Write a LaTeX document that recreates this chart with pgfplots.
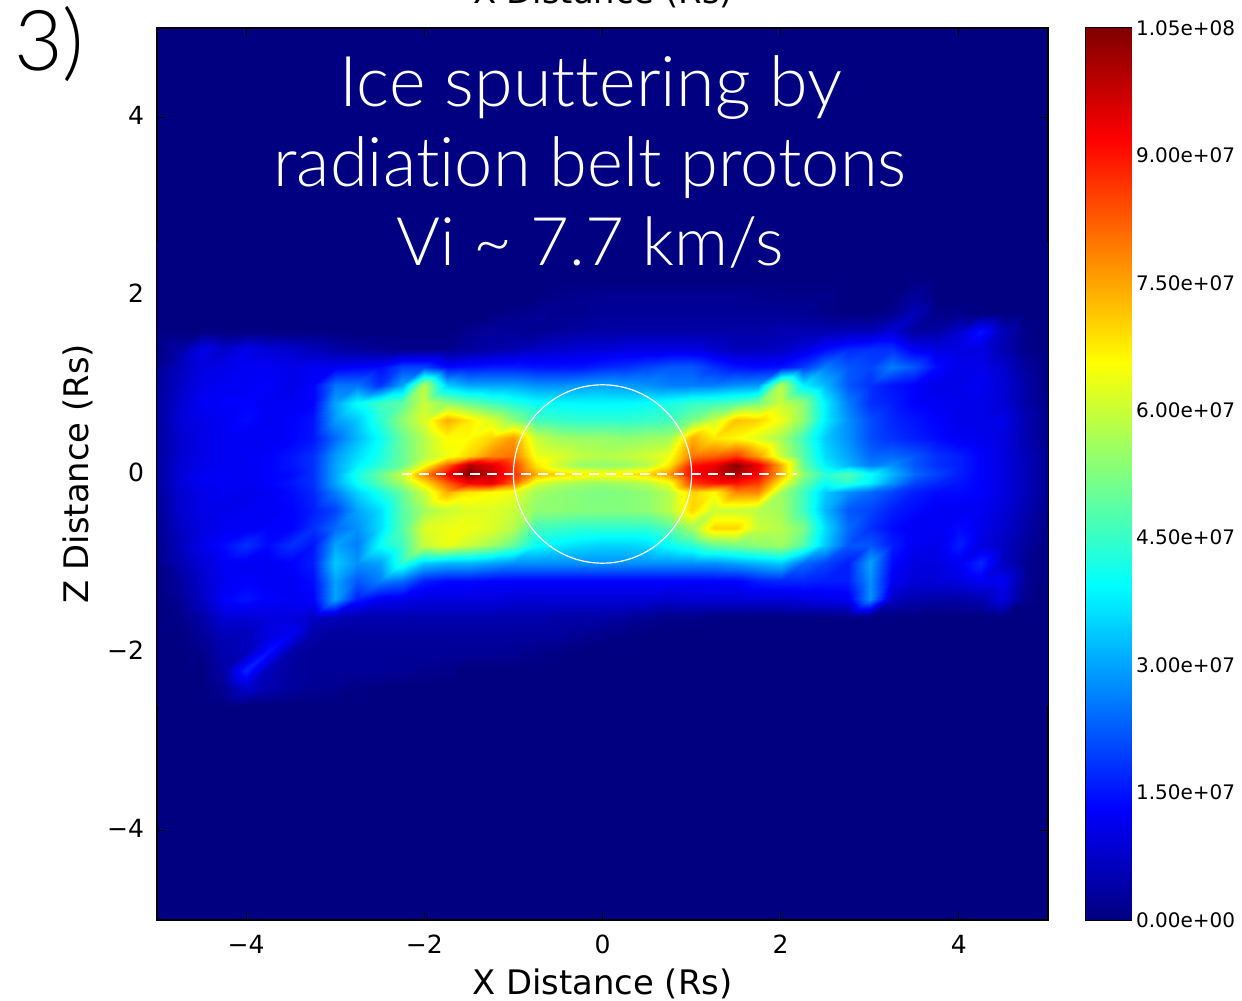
\documentclass[border=0pt]{standalone}
\usepackage{fontspec}
\setmainfont{DejaVu Sans}
\newfontfamily\thinfont[Ligatures=NoCommon]{Lato Light}
\usepackage{pgfplots}
\pgfplotsset{compat=1.18}
\begin{document}
\begin{tikzpicture}[x=0.5pt,y=0.5pt]
\useasboundingbox (0,0) rectangle (1242,1001);
\begin{axis}[
  at={(78.5pt,40.5pt)}, anchor=south west,
  scale only axis, width=445.5pt, height=446pt,
  xmin=-5, xmax=5, ymin=-5, ymax=5,
  axis background/.style={fill={rgb,1:red,0;green,0;blue,0.5}},
  axis line style={line width=0.6pt,black},
  tick style={black,line width=0.5pt},
  major tick length=4pt,
  tick align=inside,
  xtick={-4,-2,0,2,4}, ytick={-4,-2,0,2,4},
  xticklabels={−4,−2,0,2,4}, yticklabels={−4,−2,0,2,4},
  tick label style={font=\fontsize{12.5}{14}\selectfont},
  xticklabel style={yshift=-4pt},
  yticklabel style={xshift=-3pt,yshift=1pt},
  xlabel={X Distance (Rs)}, ylabel={Z Distance (Rs)},
  label style={font=\fontsize{16.9}{18}\selectfont},
  xlabel style={yshift=-0.5pt},
  ylabel style={yshift=0pt},
  colormap/jet,
  point meta min=0, point meta max=10.5,
]
\addplot[surf, shader=interp, mesh/cols=41, point meta=explicit] table[
  row sep=\\, header=false,
  x expr={-5+0.25*mod(\coordindex,41)},
  y expr={ifthenelse(floor(\coordindex/41)<=12, 2.6-0.2*floor(\coordindex/41), ifthenelse(floor(\coordindex/41)<=16, 1.4-0.1*floor(\coordindex/41), 3-0.2*floor(\coordindex/41)))},
  meta index=0] {
0\\0\\0\\0\\0\\0\\0\\0\\0\\0\\0\\0\\0\\0\\0\\0\\0\\0\\0\\0\\0\\0\\0\\0\\0\\0\\0\\0\\0\\0\\0\\0\\0\\0\\0\\0\\0\\0\\0\\0\\0\\
0\\0\\0\\0\\0\\0\\0\\0\\0\\0\\0\\0\\0\\0\\0\\0\\0\\0\\0\\0\\0\\0\\0\\0\\0\\0\\0\\0\\0\\0\\0\\0\\0\\0\\0\\0\\0\\0\\0\\0\\0\\
0\\0\\0\\0\\0\\0\\0\\0\\0\\0\\0\\0\\0\\0\\0\\0\\0\\0\\0\\0\\0\\0\\0\\0\\0\\0\\0\\0\\0\\0\\0\\0\\0\\0\\0\\0\\0\\0\\0\\0\\0\\
0\\0\\0\\0\\0\\0\\0\\0\\0\\0\\0\\0\\0\\0\\0\\0\\0\\0\\.1\\.15\\.2\\.2\\.2\\.2\\.2\\.2\\.2\\.15\\.1\\.1\\.1\\0\\0\\0\\.3\\0\\0\\0\\0\\0\\0\\
0\\0\\0\\0\\0\\0\\0\\0\\0\\0\\0\\0\\0\\0\\0\\0\\.1\\.2\\.15\\.15\\.25\\.25\\.25\\.25\\.25\\.25\\.25\\.25\\.25\\.2\\.1\\0\\0\\.15\\.6\\.1\\.1\\0\\0\\0\\0\\
0\\0\\0\\0\\0\\0\\0\\0\\0\\0\\0\\0\\0\\0\\.15\\.3\\.25\\.2\\.3\\.35\\.4\\.4\\.4\\.4\\.4\\.4\\.4\\.4\\.5\\.5\\.5\\.6\\.6\\.9\\.3\\.4\\.8\\1.5\\.6\\.1\\0\\
0\\.4\\1.1\\.8\\1.1\\.9\\.8\\.6\\.4\\.3\\.2\\.15\\.15\\.15\\.3\\.4\\.5\\.7\\.8\\.9\\.9\\1\\1\\1\\1\\.8\\.6\\.6\\.7\\1\\1.4\\1.7\\1.8\\1.8\\1.2\\1\\1\\1\\.5\\.1\\0\\
.1\\.6\\1\\1.1\\1.2\\1.2\\1.1\\1.2\\1.2\\1.3\\1.4\\2\\2\\1.4\\1.5\\1.6\\1.6\\1.5\\1.5\\1.5\\1.7\\1.8\\2\\2.2\\2.2\\1.8\\1.5\\1.4\\1.5\\1.9\\2.6\\2.2\\2\\2.6\\2.2\\1.4\\1.1\\1.1\\.8\\.3\\0\\
.2\\.7\\1.1\\1.2\\1.2\\1.3\\1.1\\1.3\\2.5\\2.5\\1.8\\3\\5.8\\3.4\\3\\3\\3\\2.8\\2.8\\2.9\\3\\2.9\\2.8\\2.6\\2.6\\2.6\\2.8\\2.9\\5.8\\3.8\\3.2\\2.2\\1.8\\1.5\\1.3\\1.1\\1.1\\1.2\\.9\\.4\\0\\
.3\\.8\\1.2\\1.3\\1.3\\1.2\\1.2\\1.3\\3\\4\\4.6\\4.9\\6\\5.4\\5\\4.6\\4.3\\4\\3.9\\3.9\\3.9\\3.9\\4\\4.2\\4.5\\4.6\\4.8\\5.2\\6\\5.4\\3.8\\2.6\\1.8\\1.6\\1.3\\1.2\\1.1\\1.1\\.9\\.4\\.1\\
.3\\.9\\1.1\\1.2\\1.4\\1.2\\1.3\\1.5\\2.9\\3.4\\4.4\\5.4\\6.2\\7.4\\6.8\\6.2\\5.4\\4.6\\4.5\\4.4\\4.4\\4.4\\4.5\\4.6\\5.2\\6\\7.2\\7\\6.4\\5.4\\3.8\\2.8\\2.1\\1.7\\1.5\\1.3\\1.1\\1.1\\1.1\\.5\\.1\\
.3\\.8\\1.1\\1.2\\1.2\\1.2\\1.3\\1.5\\2.4\\3.2\\4\\5\\5.8\\6.6\\6.6\\7\\7.6\\6\\5.6\\5.5\\5.5\\5.4\\5.5\\5.6\\7.4\\6.8\\6.6\\6.2\\5.6\\4.6\\3.4\\2.8\\2.1\\1.8\\1.6\\1.4\\1.2\\1.1\\1\\.5\\.1\\
.3\\.8\\1.1\\1.2\\1.2\\1.3\\1.5\\1.8\\2.9\\3.6\\4.2\\5\\5.8\\6.4\\7\\7.8\\8\\6.4\\6.2\\5.9\\5.8\\5.9\\6.1\\6.4\\8\\8.2\\8.6\\7.6\\6\\4.8\\3.6\\3\\2.4\\2.4\\2.2\\1.8\\1.6\\1.3\\1\\.6\\.2\\
.3\\.9\\1.1\\1.2\\1.2\\1.3\\1.5\\1.8\\3\\3.8\\4.4\\5\\6.4\\8.2\\10\\9.5\\8.6\\6.8\\6\\5.5\\5.4\\5.5\\5.8\\6.8\\9\\9.4\\10.4\\9.4\\7.4\\5\\3.8\\3.2\\2.6\\2.8\\2.2\\1.8\\1.6\\1.3\\1\\.6\\.2\\
.3\\.9\\1.2\\1.2\\1.2\\1.3\\1.4\\1.8\\3\\4.2\\5\\6\\7.8\\9.2\\10.4\\9.8\\8.8\\7.4\\7\\6.8\\6.6\\6.8\\7\\7.6\\9.2\\9.6\\10\\9.2\\7.4\\5.4\\4.4\\4.8\\4\\3.2\\2.4\\2\\1.6\\1.3\\1\\.6\\.2\\
.3\\.9\\1.2\\1.2\\1.2\\1.3\\1.5\\1.8\\3\\4\\4.8\\5.6\\6.8\\8.2\\9.2\\9.4\\8.2\\6.2\\5.8\\5.6\\5.5\\5.6\\5.8\\6.4\\8.6\\9\\9\\8.6\\6.6\\5\\4\\4.4\\3.8\\2.8\\2\\1.7\\1.5\\1.3\\1\\.6\\.2\\
.3\\.8\\1.1\\1.2\\1.1\\1.2\\1.4\\1.7\\2.6\\3.5\\4.2\\5\\6\\7.4\\6.8\\6.6\\6.4\\5.6\\5.4\\5.3\\5.2\\5.3\\5.4\\5.8\\7\\6.6\\7.8\\7.8\\5.6\\4.6\\3.4\\2.8\\2.4\\2\\1.6\\1.4\\1.4\\1.3\\1\\.6\\.2\\
.2\\.8\\1.1\\1.1\\1.2\\1.2\\1.3\\1.6\\2\\3\\3.6\\4.8\\5.6\\6\\6.2\\6.2\\6\\5.4\\5.4\\5.3\\5.3\\5.3\\5.4\\5.8\\7\\6\\6\\5.8\\5.6\\4.6\\3.2\\2.2\\2\\1.6\\1.4\\1.2\\1.2\\1.2\\.9\\.5\\.1\\
.2\\.7\\1\\1.2\\1.2\\1.3\\1.3\\1.8\\2.4\\2.8\\3.6\\4.8\\6.2\\6.4\\6.4\\6.2\\5.8\\4.6\\4.5\\4.4\\4.4\\4.4\\4.4\\4.8\\5.6\\7\\7\\6\\5.8\\5.2\\3.6\\2.4\\1.8\\1.4\\1.2\\1.2\\1.4\\1.1\\.8\\.4\\.1\\
.1\\.6\\1.1\\1.4\\1.8\\1.4\\1.8\\1.5\\3\\2.6\\4\\4.6\\6\\6.4\\6\\5.6\\5\\4\\3.8\\3.6\\3.5\\3.5\\3.6\\4\\4.4\\5\\5.2\\5.4\\5.6\\4.8\\3.4\\2.2\\2.2\\1.6\\1.2\\1.1\\1.6\\1\\.7\\.3\\0\\
.1\\.5\\.9\\1.2\\1.2\\1.2\\1.3\\1.6\\3.4\\2.8\\3\\4.4\\3.4\\3.2\\3.2\\3\\2.8\\2.8\\2.8\\2.8\\2.8\\2.8\\2.8\\2.8\\2.8\\2.8\\3\\3.2\\3.4\\2.4\\2\\1.6\\3\\1.4\\1\\1\\1.2\\1.7\\.7\\.2\\0\\
0\\.3\\.8\\1.2\\1.3\\1.2\\1.2\\1.4\\3\\2.2\\2.6\\2.4\\1.6\\1.4\\1.4\\1.3\\1.3\\1.3\\1.3\\1.3\\1.3\\1.3\\1.3\\1.3\\1.3\\1.3\\1.3\\1.6\\1.7\\1.7\\1.6\\1.6\\2.8\\1.2\\.9\\.9\\1\\1.2\\1.2\\.2\\0\\
0\\.2\\.7\\1.3\\1.5\\1.3\\1.2\\1.3\\3\\1.6\\1.2\\1.1\\1\\1\\1\\1\\.9\\.9\\.9\\.9\\.9\\.9\\.9\\.8\\.9\\.9\\.9\\.9\\.9\\1\\1.1\\1.2\\2.8\\.7\\.5\\.4\\.4\\.5\\1\\.1\\0\\
0\\.1\\.4\\.9\\.9\\1\\1\\.7\\.6\\.5\\.5\\.5\\.5\\.5\\.5\\.5\\.5\\.5\\.4\\.4\\.4\\.3\\.2\\.1\\.1\\.05\\.05\\.05\\.05\\.05\\.05\\.05\\.05\\0\\0\\0\\0\\0\\0\\0\\0\\
0\\0\\.25\\.6\\.6\\1\\1.2\\.4\\.3\\.3\\.3\\.3\\.3\\.3\\.3\\.3\\.3\\.3\\.3\\.2\\.1\\.05\\0\\0\\0\\0\\0\\0\\0\\0\\0\\0\\0\\0\\0\\0\\0\\0\\0\\0\\0\\
0\\0\\.1\\.5\\.6\\1.5\\.4\\.25\\.25\\.25\\.25\\.25\\.25\\.25\\.25\\.25\\.2\\.1\\.05\\0\\0\\0\\0\\0\\0\\0\\0\\0\\0\\0\\0\\0\\0\\0\\0\\0\\0\\0\\0\\0\\0\\
0\\0\\0\\.4\\1.7\\.6\\.3\\.25\\.25\\.25\\.25\\.2\\.15\\.1\\0\\0\\0\\0\\0\\0\\0\\0\\0\\0\\0\\0\\0\\0\\0\\0\\0\\0\\0\\0\\0\\0\\0\\0\\0\\0\\0\\
0\\0\\0\\.2\\.8\\.5\\.3\\.2\\.15\\.05\\0\\0\\0\\0\\0\\0\\0\\0\\0\\0\\0\\0\\0\\0\\0\\0\\0\\0\\0\\0\\0\\0\\0\\0\\0\\0\\0\\0\\0\\0\\0\\
0\\0\\0\\0\\0\\0\\0\\0\\0\\0\\0\\0\\0\\0\\0\\0\\0\\0\\0\\0\\0\\0\\0\\0\\0\\0\\0\\0\\0\\0\\0\\0\\0\\0\\0\\0\\0\\0\\0\\0\\0\\
};
\addplot[white, line width=0.6pt, dash pattern=on 5pt off 3.5pt] coordinates {(-2.25,0) (2.18,0)};
\draw[white, line width=0.6pt] (axis cs:0,0) circle [radius=1];
\end{axis}
\begin{axis}[
  at={(543pt,40.5pt)}, anchor=south west,
  scale only axis, width=22.5pt, height=446pt,
  xmin=0, xmax=1, ymin=0, ymax=10.5,
  xtick=\empty,
  ytick={0,1.5,3,4.5,6,7.5,9,10.5},
  yticklabels={0.00e+00,1.50e+07,3.00e+07,4.50e+07,6.00e+07,7.50e+07,9.00e+07,1.05e+08},
  ytick pos=right, yticklabel pos=right,
  tick align=inside, major tick length=4pt,
  tick style={black,line width=0.5pt},
  tick label style={font=\fontsize{10}{12}\selectfont},
  yticklabel style={xshift=-1pt},
  axis line style={line width=0.6pt,black},
  colormap/jet,
  point meta min=0, point meta max=10.5,
]
\addplot[surf, shader=interp, mesh/cols=2, point meta=explicit] table[x=x,y=y,meta=m] {
x y m
0 0 0
1 0 0
0 2.625 2.625
1 2.625 2.625
0 5.25 5.25
1 5.25 5.25
0 7.875 7.875
1 7.875 7.875
0 10.5 10.5
1 10.5 10.5
};
\end{axis}
\node[anchor=base, font=\fontsize{16.9}{18}\selectfont] at (603,997) {X Distance (Rs)};
\node[anchor=base west, font={\thinfont\fontsize{42}{44}\selectfont}] at (7,930) {3)};
\node[anchor=base, white, font={\thinfont\fontsize{35}{40}\selectfont}] at (591,894) {Ice sputtering by};
\node[anchor=base, white, font={\thinfont\fontsize{34.3}{40}\selectfont}] at (590,814) {radiation belt protons};
\node[anchor=base, white, font={\thinfont\fontsize{33.5}{40}\selectfont}] at (590,735) {Vi \textasciitilde{} 7.7 km/s};
\end{tikzpicture}
\end{document}
